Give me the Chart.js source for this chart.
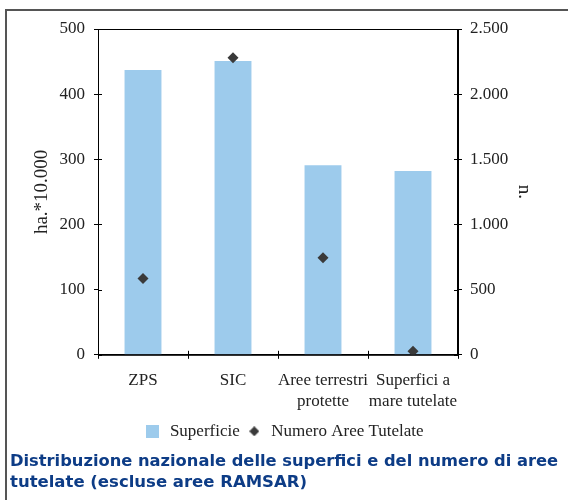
<!DOCTYPE html>
<html lang="it">
<head>
<meta charset="utf-8">
<title>Superfici e numero aree tutelate</title>
<script src="https://cdn.jsdelivr.net/npm/chart.js@4.4.1/dist/chart.umd.min.js"></script>
<style>
    html, body { margin: 0; padding: 0; background: #fff; overflow: hidden; }
    .cornice {
        position: absolute; left: 5px; top: 9px; width: 600px; height: 600px;
        border: 2px solid #555; box-sizing: border-box;
    }
    .box { position: absolute; left: 0; top: 0; width: 568px; height: 500px; }
</style>
</head>
<body>
<div class="cornice"></div>
<div class="box"><canvas id="grafico"></canvas></div>
<script>
// Dati del grafico
const categorie = ['ZPS', 'SIC', ['Aree terrestri', 'protette'], ['Superfici a', 'mare tutelate']];
const superficie = [437, 451, 291, 282];        // ha * 10.000
const numeroAree = [585, 2280, 745, 27];        // n.
const tickSinistra = [0, 100, 200, 300, 400, 500];
const tickDestra = [0, 500, 1000, 1500, 2000, 2500];

const coloreBarre = '#9dcbec';
const coloreRombi = '#3a3a3a';
const fontSerif = { family: "'Liberation Serif', 'Times New Roman', serif", size: 17 };
const fontTitoloAsse = { family: "'Liberation Serif', 'Times New Roman', serif", size: 19 };

// Formato italiano con il punto per le migliaia
const formatoIt = v => String(v).replace(/\B(?=(\d{3})+(?!\d))/g, '.');

// Simboli della legenda disegnati su piccoli canvas
function simbolo(tipo) {
    const c = document.createElement('canvas');
    const ctx = c.getContext('2d');
    if (tipo === 'quadrato') {
        c.width = 13; c.height = 13;
        ctx.fillStyle = coloreBarre;
        ctx.fillRect(0, 0, 13, 13);
    } else {
        c.width = 10; c.height = 10;
        ctx.fillStyle = coloreRombi;
        ctx.beginPath();
        ctx.moveTo(5, 0); ctx.lineTo(10, 5); ctx.lineTo(5, 10); ctx.lineTo(0, 5);
        ctx.closePath();
        ctx.fill();
    }
    return c;
}

// Cornice dell'area del grafico e tacche che attraversano gli assi
const cornicePlugin = {
    id: 'cornicePlugin',
    afterDraw(chart) {
        const { ctx, chartArea: a, scales } = chart;
        ctx.save();
        ctx.strokeStyle = '#000';
        ctx.lineWidth = 1;
        ctx.strokeRect(a.left + 0.5, a.top + 0.5, a.right - a.left - 1, a.bottom - a.top);
        ctx.beginPath();
        tickSinistra.forEach(v => {
            const y = Math.round(scales.y.getPixelForValue(v)) + 0.5;
            ctx.moveTo(a.left, y); ctx.lineTo(a.left + 4, y);
        });
        tickDestra.forEach(v => {
            const y = Math.round(scales.y1.getPixelForValue(v)) + 0.5;
            ctx.moveTo(a.right - 4, y); ctx.lineTo(a.right, y);
        });
        const passo = scales.x.getPixelForValue(1) - scales.x.getPixelForValue(0);
        for (let i = 0; i <= categorie.length; i++) {
            const x = Math.round(scales.x.getPixelForValue(i) - passo / 2) + 0.5;
            ctx.moveTo(x, a.bottom - 4); ctx.lineTo(x, a.bottom);
        }
        ctx.stroke();
        ctx.restore();
    }
};

const grafico = new Chart(document.getElementById('grafico'), {
    type: 'bar',
    data: {
        labels: categorie,
        datasets: [
            {
                type: 'line',
                label: 'Numero Aree Tutelate',
                data: numeroAree,
                yAxisID: 'y1',
                showLine: false,
                pointStyle: 'rectRot',
                pointRadius: 5.5,
                pointBackgroundColor: coloreRombi,
                pointBorderColor: coloreRombi,
                pointBorderWidth: 0
            },
            {
                label: 'Superficie',
                data: superficie,
                yAxisID: 'y',
                backgroundColor: coloreBarre,
                categoryPercentage: 1,
                barPercentage: 0.41
            }
        ]
    },
    options: {
        responsive: true,
        maintainAspectRatio: false,
        animation: false,
        layout: { padding: { top: 29, left: 10, right: 10, bottom: 0 } },
        scales: {
            x: {
                grid: { drawOnChartArea: false, tickLength: 4, color: '#000' },
                border: { color: '#000' },
                ticks: { font: fontSerif, color: '#222', padding: 12, maxRotation: 0, autoSkip: false },
                afterFit: s => { s.height = 62; }
            },
            y: {
                position: 'left',
                min: 0, max: 500,
                afterBuildTicks: s => { s.ticks = tickSinistra.map(v => ({ value: v })); },
                grid: { drawOnChartArea: false, tickLength: 4, color: '#000' },
                border: { color: '#000' },
                ticks: { font: fontSerif, color: '#222', padding: 9 },
                title: { display: true, text: 'ha.*10.000', font: fontTitoloAsse, color: '#222', padding: { top: 21, bottom: 0 } },
                afterFit: s => { s.width = 88; }
            },
            y1: {
                position: 'right',
                min: 0, max: 2500,
                afterBuildTicks: s => { s.ticks = tickDestra.map(v => ({ value: v })); },
                grid: { drawOnChartArea: false, tickLength: 4, color: '#000' },
                border: { color: '#000' },
                ticks: { font: fontSerif, color: '#222', padding: 8, callback: v => formatoIt(v) },
                title: { display: true, text: 'n.', font: fontTitoloAsse, color: '#222', padding: { top: 23, bottom: 0 } },
                afterFit: s => { s.width = 100; }
            }
        },
        plugins: {
            legend: {
                position: 'bottom',
                labels: {
                    usePointStyle: true,
                    font: fontSerif,
                    color: '#222',
                    padding: 6,
                    generateLabels: () => [
                        { text: 'Superficie', pointStyle: simbolo('quadrato'), fillStyle: coloreBarre, strokeStyle: coloreBarre, lineWidth: 0, datasetIndex: 1, hidden: false, fontColor: '#222' },
                        { text: 'Numero Aree Tutelate', pointStyle: simbolo('rombo'), fillStyle: coloreRombi, strokeStyle: coloreRombi, lineWidth: 0, datasetIndex: 0, hidden: false, fontColor: '#222' }
                    ]
                }
            },
            title: {
                display: true,
                position: 'bottom',
                align: 'start',
                text: ['Distribuzione nazionale delle superfici e del numero di aree', 'tutelate (escluse aree RAMSAR)'],
                color: '#0d3c86',
                font: { family: "'DejaVu Sans', Arial, sans-serif", size: 16.5, weight: 'bold', lineHeight: 1.3 },
                padding: { top: 1, bottom: 6.3 }
            },
            tooltip: { enabled: false }
        }
    },
    plugins: [cornicePlugin]
});
</script>
</body>
</html>
